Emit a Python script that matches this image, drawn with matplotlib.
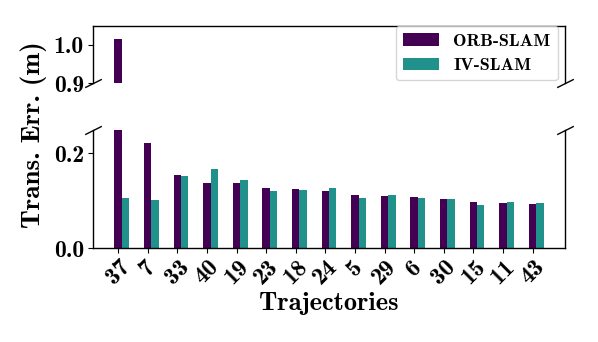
import matplotlib
matplotlib.use("Agg")
import matplotlib.pyplot as plt
import numpy as np

trajectories = ["37", "7", "33", "40", "19", "23", "18", "24", "5", "29", "6", "30", "15", "11", "43"]
orb_slam = [1.015, 0.221, 0.154, 0.1375, 0.137, 0.128, 0.124, 0.1205, 0.112, 0.110, 0.107, 0.1045, 0.097, 0.095, 0.094]
iv_slam = [0.1065, 0.1015, 0.152, 0.166, 0.143, 0.120, 0.1235, 0.128, 0.106, 0.112, 0.105, 0.103, 0.092, 0.097, 0.0955]

c_orb = "#440154"
c_iv = "#21918c"
FONT = "cmb10"

fig = plt.figure(figsize=(5.98, 3.42), dpi=100)
ax_top = fig.add_axes([0.1555, 0.757, 0.7895, 0.168])
ax_bot = fig.add_axes([0.1555, 0.274, 0.7895, 0.347])

x = np.arange(len(trajectories))
w = 0.25
for ax in (ax_top, ax_bot):
    ax.bar(x, orb_slam, w, color=c_orb, label="ORB-SLAM")
    ax.bar(x + w, iv_slam, w, color=c_iv, label="IV-SLAM")
    ax.set_xlim(-0.85, 15.1)

ax_top.set_ylim(0.9, 1.05)
ax_bot.set_ylim(0.0, 0.25)
ax_top.set_yticks([0.9, 1.0])
ax_top.set_yticklabels(["0.9", "1.0"], fontfamily=FONT, fontsize=17)
ax_bot.set_yticks([0.0, 0.2])
ax_bot.set_yticklabels(["0.0", "0.2"], fontfamily=FONT, fontsize=17)

ax_top.spines["bottom"].set_visible(False)
ax_bot.spines["top"].set_visible(False)
ax_top.tick_params(axis="x", bottom=False, labelbottom=False)
ax_top.tick_params(axis="y", pad=3)
ax_bot.tick_params(axis="y", pad=3)
ax_bot.set_xticks(x)
ax_bot.set_xticklabels(trajectories, rotation=45, fontfamily=FONT, fontsize=17.5,
                       ha="center", va="top")
ax_bot.tick_params(axis="x", pad=2)
ax_bot.set_xlabel("Trajectories", fontfamily=FONT, fontsize=19, labelpad=2)

for ax in (ax_top, ax_bot):
    for s in ax.spines.values():
        s.set_linewidth(1.0)

# break marks
d = 0.5
kw = dict(marker=[(-1, -d), (1, d)], markersize=12, linestyle="none",
          color="k", mec="k", mew=1, clip_on=False)
ax_top.plot([0, 1], [0, 0], transform=ax_top.transAxes, **kw)
ax_bot.plot([0, 1], [1, 1], transform=ax_bot.transAxes, **kw)

fig.text(0.057, 0.605, "Trans. Err. (m)", rotation=90, ha="center", va="center",
         fontfamily=FONT, fontsize=19.5)

leg = ax_top.legend(loc="upper right", bbox_to_anchor=(0.985, 1.0),
                    prop={"family": FONT, "size": 13}, framealpha=0.8,
                    handlelength=2.0, borderaxespad=0.0)

fig.savefig("out.png", dpi=100)
